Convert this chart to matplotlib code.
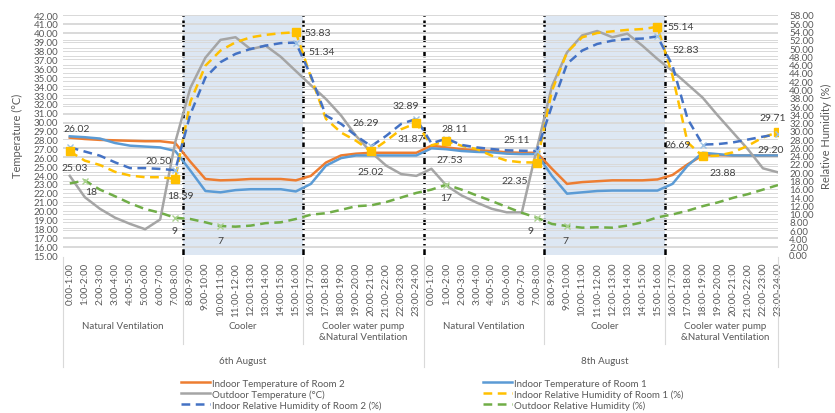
import matplotlib.pyplot as plt
from matplotlib.lines import Line2D
from matplotlib.ticker import FormatStrFormatter
from matplotlib.transforms import blended_transform_factory

hours = ['%d:00-%d:00' % (h, h + 1) for h in range(24)]
categories = hours + hours
modes = ['Natural Ventilation', 'Cooler', 'Cooler water pump\n&Natural Ventilation'] * 2
days = ['6th August', '8th August']

# temperatures (C), left axis
temp_room2 = [28.2, 28.05, 27.95, 27.9, 27.85, 27.8, 27.8, 27.6, 25.5, 23.55, 23.4, 23.45,
              23.55, 23.55, 23.55, 23.4, 23.9, 25.4, 26.2, 26.4, 26.5, 26.5, 26.5, 26.5,
              27.3, 27.1, 26.9, 26.8, 26.7, 26.55, 26.5, 26.5, 24.7, 23.0, 23.2, 23.3,
              23.4, 23.4, 23.4, 23.5, 24.0, 25.2, 26.2, 26.25, 26.2, 26.2, 26.2, 26.2]
temp_room1 = [28.35, 28.25, 28.1, 27.6, 27.3, 27.2, 27.1, 26.7, 24.5, 22.2, 22.05, 22.3,
              22.4, 22.4, 22.4, 22.15, 23.0, 25.05, 25.9, 26.2, 26.2, 26.2, 26.2, 26.2,
              27.0, 26.9, 26.7, 26.6, 26.55, 26.4, 26.35, 26.35, 23.9, 21.9, 22.05, 22.2,
              22.25, 22.25, 22.25, 22.25, 23.0, 25.05, 26.5, 26.35, 26.2, 26.2, 26.2, 26.2]
temp_outdoor = [23.9, 21.5, 20.2, 19.2, 18.5, 17.9, 19.0, 27.7, 33.8, 37.2, 39.2, 39.5,
                38.15, 38.55, 37.3, 35.7, 34.1, 32.55, 30.7, 28.4, 26.55, 25.05, 24.1, 23.9,
                24.7, 22.8, 21.7, 20.9, 20.2, 19.8, 19.8, 27.0, 34.0, 37.8, 39.7, 40.2,
                39.5, 39.9, 38.55, 37.05, 35.7, 34.2, 32.7, 30.7, 28.8, 26.9, 24.75, 24.3]

# relative humidity (%), right axis
rh_room1 = [25.03, 22.8, 21.75, 20.1, 19.2, 18.8, 18.8, 18.39, 37.0, 45.75, 49.4, 51.4,
            52.6, 53.2, 53.6, 53.83, 43.0, 32.9, 29.6, 27.6, 25.02, 27.6, 30.4, 31.87,
            26.5, 27.53, 26.4, 25.6, 24.0, 22.8, 22.4, 22.35, 39.7, 49.0, 52.6, 53.65,
            54.05, 54.4, 54.6, 55.14, 43.3, 27.2, 23.88, 24.0, 24.8, 26.4, 28.4, 29.71]
rh_room2 = [26.02, 25.0, 24.0, 22.4, 21.0, 21.0, 20.8, 20.50, 34.0, 42.9, 46.6, 48.6,
            49.8, 50.6, 51.2, 51.34, 43.3, 33.7, 31.7, 28.8, 26.29, 28.8, 31.7, 32.89,
            27.0, 28.11, 26.6, 26.0, 25.6, 25.3, 25.2, 25.11, 36.1, 46.2, 49.4, 51.0,
            51.8, 52.2, 52.3, 52.83, 45.75, 32.9, 26.69, 26.8, 27.2, 27.9, 28.6, 29.20]
rh_outdoor = [17.3, 18, 15.8, 14.2, 12.5, 11.1, 10.2, 9, 8.7, 7.9, 7, 6.85,
              7.1, 7.7, 7.9, 8.7, 9.75, 10.1, 10.9, 11.8, 12.0, 12.8, 13.9, 15.0,
              15.8, 17, 15.8, 14.4, 13.05, 11.6, 10.2, 9, 7.5, 7, 6.6, 6.7,
              6.6, 7.1, 7.9, 9.1, 9.8, 10.7, 11.8, 12.7, 13.8, 14.7, 15.8, 16.9]

plt.rcParams['font.family'] = ['Lato', 'DejaVu Sans']
txt_col = '#595959'

fig = plt.figure(figsize=(8.35, 4.14), dpi=100)
pos = [63 / 835, 1 - 256 / 414, 715 / 835, 240 / 414]
x = list(range(len(categories)))

# background axes: grids, shading, phase lines
ax = fig.add_axes(pos)
ax.set_xlim(-0.45, 47)
ax.set_ylim(15, 42)
ax.set_yticks(range(15, 43))
ax.yaxis.set_major_formatter(FormatStrFormatter('%.2f'))
ax.grid(axis='y', color='#d9d9d9', lw=0.7)
ax.set_xticks(x)
ax.set_xticklabels(categories, rotation=90, fontsize=7, color=txt_col)
ax.tick_params(axis='both', length=0, labelsize=7, labelcolor=txt_col)
ax.tick_params(axis='x', pad=5)
for s in ax.spines.values():
    s.set_visible(False)

axr = ax.twinx()
axr.set_ylim(0, 58)
axr.set_yticks(range(0, 59, 2))
axr.yaxis.set_major_formatter(FormatStrFormatter('%.2f'))
axr.grid(axis='y', color='#d9d9d9', lw=0.7)
axr.tick_params(length=0, labelsize=7, labelcolor=txt_col, pad=8)
for s in axr.spines.values():
    s.set_visible(False)

for a, b in [(7.5, 15.5), (31.5, 39.5)]:
    ax.axvspan(a, b, color='#dde7f3', lw=0, zorder=0)
for xv in [7.5, 15.5, 23.5, 31.5, 39.5]:
    ax.axvline(xv, color='black', lw=1.8, ls=(0, (2.5, 1.5, 0.6, 1.5)), zorder=1)

# line layers
axt = fig.add_axes(pos, sharex=ax, sharey=ax)
axt.axis('off')
axh = fig.add_axes(pos, sharex=ax, sharey=axr)
axh.axis('off')

dash = (0, (3.5, 2.2))
h_r2, = axt.plot(x, temp_room2, color='#ed7d31', lw=1.8)
h_r1, = axt.plot(x, temp_room1, color='#5b9bd5', lw=1.8)
h_out, = axt.plot(x, temp_outdoor, color='#a5a5a5', lw=1.8)
h_rh1, = axh.plot(x, rh_room1, color='#ffc000', lw=1.8, ls=dash)
h_rh2, = axh.plot(x, rh_room2, color='#4472c4', lw=1.8, ls=dash)
h_rho, = axh.plot(x, rh_outdoor, color='#70ad47', lw=1.8, ls=dash)

# data labels: (series, index, dx, dy) in pixels
series = {'rh1': rh_room1, 'rh2': rh_room2, 'rho': rh_outdoor}
labels = [('rh2', 0, 7, 19), ('rh1', 0, 5, -16), ('rho', 1, 6, -11),
          ('rh2', 7, -17, 10), ('rh1', 7, 5, -17), ('rho', 7, -1, -13), ('rho', 10, 0, -14),
          ('rh1', 15, 22, 0), ('rh2', 15, 26, -9), ('rh2', 20, -5, 24), ('rh1', 20, 0, -20),
          ('rh2', 23, -11, 13), ('rh1', 23, -6, -15), ('rh2', 25, 8, 10), ('rh1', 25, 3, -18),
          ('rho', 25, 0, -13), ('rh2', 31, -20, 12), ('rh1', 31, -22, -18), ('rho', 31, -6, -13),
          ('rho', 33, -2, -14), ('rh1', 39, 23, 0), ('rh2', 39, 28, -13), ('rh2', 42, -25, 0),
          ('rh1', 42, 20, -16), ('rh1', 47, -5, 15), ('rh2', 47, -7, -15)]
mk = {'rh1': dict(marker='s', color='#ffc000', ms=5.5),
      'rh2': dict(marker='x', color='#9dc3e6', ms=5, mew=1),
      'rho': dict(marker='x', color='#a9d18e', ms=5, mew=1)}
for key, i, dx, dy in labels:
    v = series[key][i]
    axh.plot([i], [v], ls='none', **mk[key])
    s = '%g' % v if key == 'rho' else '%.2f' % v
    axh.annotate(s, (i, v), xytext=(dx, dy), textcoords='offset pixels',
                 ha='center', va='center', fontsize=7.5, color='#404040')

# multi-level category axis
tr = blended_transform_factory(ax.transData, fig.transFigure)
for k, m in enumerate(modes):
    fig.text(3.5 + 8 * k, 1 - 322 / 414, m, transform=tr, ha='center', va='top',
             fontsize=7, color=txt_col, linespacing=1.35)
for k, d in enumerate(days):
    fig.text(11.5 + 24 * k, 1 - 362 / 414, d, transform=tr, ha='center', va='center',
             fontsize=7, color=txt_col)
for xv in [7.5, 15.5, 31.5, 39.5]:
    fig.add_artist(Line2D([xv, xv], [1 - 258 / 414, 1 - 345 / 414], transform=tr,
                          color='#d9d9d9', lw=0.8))
for xv in [-0.45, 23.5, 47]:
    fig.add_artist(Line2D([xv, xv], [1 - 258 / 414, 1 - 368 / 414], transform=tr,
                          color='#d9d9d9', lw=0.8))

fig.text(17 / 835, 1 - 136 / 414, 'Temperature (\u00b0C)', rotation=90, ha='center',
         va='center', fontsize=8, color=txt_col)
fig.text(826 / 835, 1 - 136 / 414, 'Relative Humidity (%)', rotation=90, ha='center',
         va='center', fontsize=8, color=txt_col)

leg_kw = dict(frameon=False, fontsize=7, handlelength=3.0, handletextpad=0.2,
              labelspacing=0.15, borderpad=0, labelcolor=txt_col)
fig.legend([h_r2, h_out, h_rh2],
           ['Indoor Temperature of Room 2', 'Outdoor Temperature (\u00b0C)',
            'Indoor Relative Humidity of Room 2 (%)'],
           loc='upper left', bbox_to_anchor=(176 / 835, 1 - 375 / 414), **leg_kw)
fig.legend([h_r1, h_rh1, h_rho],
           ['Indoor Temperature of Room 1', 'Indoor Relative Humidity of Room 1 (%)',
            'Outdoor Relative Humidity (%)'],
           loc='upper left', bbox_to_anchor=(478 / 835, 1 - 375 / 414), **leg_kw)

fig.savefig('out.png', dpi=100)
